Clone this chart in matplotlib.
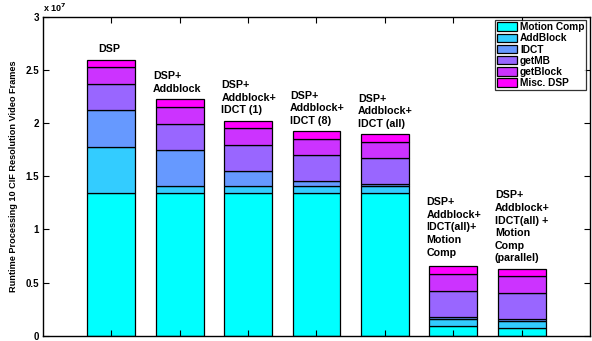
import matplotlib.pyplot as plt
from matplotlib.ticker import FuncFormatter
import numpy as np

plt.rcParams['font.family'] = ['Liberation Sans', 'DejaVu Sans']
plt.rcParams['font.weight'] = 'bold'

# stacked components (units of 1e7 cycles), bottom to top
components = ['Motion Comp', 'AddBlock', 'IDCT', 'getMB', 'getBlock', 'Misc. DSP']
motion_comp = [1.343, 1.343, 1.343, 1.343, 1.343, 0.093, 0.078]
add_block = [0.436, 0.062, 0.062, 0.062, 0.062, 0.063, 0.059]
idct = [0.345, 0.343, 0.144, 0.050, 0.025, 0.024, 0.025]
get_mb = [0.243, 0.243, 0.245, 0.243, 0.240, 0.243, 0.243]
get_block = [0.159, 0.161, 0.156, 0.155, 0.155, 0.159, 0.159]
misc_dsp = [0.069, 0.072, 0.071, 0.072, 0.072, 0.075, 0.069]

bar_labels = [
    'DSP',
    'DSP+\nAddblock',
    'DSP+\nAddblock+\nIDCT (1)',
    'DSP+\nAddblock+\nIDCT (8)',
    'DSP+\nAddblock+\nIDCT (all)',
    'DSP+\nAddblock+\nIDCT(all)+\nMotion\nComp',
    'DSP+\nAddblock+\nIDCT(all) +\nMotion\nComp\n(parallel)',
]

# matlab "cool" colormap, 6 levels
colors = plt.cm.cool(np.linspace(0, 1, 6))

series = [motion_comp, add_block, idct, get_mb, get_block, misc_dsp]
data = np.array(series) * 1e7

fig = plt.figure(figsize=(5.92, 3.41), dpi=100)
ax = fig.add_axes([0.0726, 0.0147, 0.9240, 0.9369])

x = np.arange(1, len(bar_labels) + 1)
width = 0.7
bottom = np.zeros(len(x))
for name, vals, c in zip(components, data, colors):
    ax.bar(x, vals, width, bottom=bottom, color=c, edgecolor='black',
           linewidth=0.9, label=name)
    bottom += vals

for i, (xi, top, txt) in enumerate(zip(x, bottom, bar_labels)):
    gap = 0.08e7 if i == 5 else 0.05e7  # label for bar 6 sits a bit higher
    if i == 0:
        ax.text(xi - 0.03, top + gap, txt, ha='center', va='bottom',
                fontsize=7.7, fontweight='bold', linespacing=1.32)
    else:
        ax.text(xi - 0.39, top + gap, txt, ha='left', va='bottom',
                fontsize=7.7, fontweight='bold', linespacing=1.32)

ax.set_xlim(0, 8)
ax.set_ylim(0, 3e7)
ax.set_xticks(x)
ax.set_xticklabels([])
ax.set_yticks(np.arange(0, 3.01e7, 0.5e7))
ax.yaxis.set_major_formatter(FuncFormatter(lambda v, p: '%g' % (v / 1e7)))
ax.tick_params(direction='in', top=True, right=True, length=4,
               labelsize=7, width=0.8, pad=3)
for lab in ax.get_yticklabels():
    lab.set_fontweight('bold')
ax.text(0.0, 1.008, r'x 10$^{7}$', transform=ax.transAxes, ha='left',
        va='bottom', fontsize=6.5, fontweight='bold')
for s in ax.spines.values():
    s.set_linewidth(1.0)

ax.set_ylabel('Runtime Processing 10 CIF Resolution Video Frames',
              fontsize=6.6, fontweight='bold', labelpad=5)

leg = ax.legend(loc='upper right', prop={'weight': 'bold', 'size': 7.3},
                frameon=True, fancybox=False, edgecolor='black',
                borderpad=0.2, labelspacing=0.12, handlelength=2.0,
                handleheight=0.9, handletextpad=0.25, borderaxespad=0.35)
leg.get_frame().set_linewidth(0.9)

fig.savefig('out.png', dpi=100)
